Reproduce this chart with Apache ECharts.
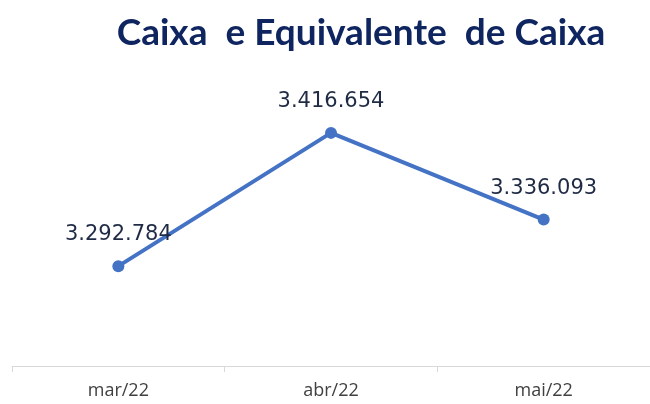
<!DOCTYPE html>
<html lang="pt">
<head>
  <meta charset="UTF-8">
  <title>Caixa e Equivalente de Caixa</title>
  <script src="https://cdn.jsdelivr.net/npm/echarts@6/dist/echarts.min.js"></script>
</head>
<body style="margin:0">
  <div id="container" style="width:650px;height:404px;"></div>
  <script>
    // dados do gráfico
    var meses = ['mar/22', 'abr/22', 'mai/22'];
    var caixa = [3292784, 3416654, 3336093];

    var myChart = echarts.init(document.getElementById('container'));

    // formato pt-BR: 3.292.784
    function fmt(v) {
      return String(v).replace(/\B(?=(\d{3})+(?!\d))/g, '.');
    }

    myChart.setOption({
      backgroundColor: '#ffffff',
      title: {
        text: 'Caixa  e Equivalente  de Caixa',
        left: 356,
        textAlign: 'center',
        top: 10,
        textStyle: {
          fontFamily: 'Lato',
          fontWeight: 'bold',
          fontSize: 37,
          color: '#0f2560'
        }
      },
      grid: {
        left: 12,
        top: 97,
        width: 642,
        bottom: 38
      },
      xAxis: {
        type: 'category',
        data: meses,
        boundaryGap: true,
        axisLine: { lineStyle: { color: '#d9d9d9', width: 1 } },
        axisTick: { show: true, length: 6, lineStyle: { color: '#d9d9d9' } },
        axisLabel: {
          margin: 16,
          fontFamily: 'Open Sans',
          fontSize: 18,
          color: '#404040'
        }
      },
      yAxis: {
        type: 'value',
        min: 3200000,
        max: 3450000,
        show: false,
        splitLine: { show: false }
      },
      series: [
        {
          type: 'line',
          data: caixa,
          symbol: 'circle',
          symbolSize: 12,
          lineStyle: { color: '#4472c4', width: 4 },
          itemStyle: { color: '#4472c4' },
          label: {
            show: true,
            position: 'top',
            distance: 15,
            formatter: function (p) { return fmt(p.value); },
            fontFamily: 'DejaVu Sans',
            fontSize: 21,
            color: '#1f2a44'
          }
        }
      ]
    });
  </script>
</body>
</html>
